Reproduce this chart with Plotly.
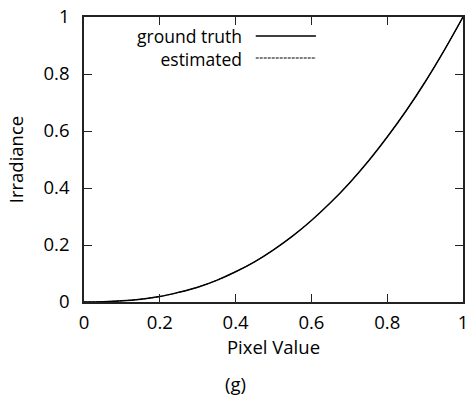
import plotly.graph_objects as go

# Data
pixel_value = [0.0, 0.05, 0.1, 0.15, 0.2, 0.25, 0.3, 0.35, 0.4, 0.45, 0.5,
               0.55, 0.6, 0.65, 0.7, 0.75, 0.8, 0.85, 0.9, 0.95, 1.0]
ground_truth = [0.0, 0.001, 0.004, 0.010, 0.019, 0.034, 0.052, 0.076, 0.106, 0.141, 0.183,
                0.231, 0.286, 0.348, 0.417, 0.494, 0.579, 0.671, 0.772, 0.882, 1.0]
estimated = [0.0, 0.001, 0.004, 0.010, 0.019, 0.034, 0.052, 0.076, 0.106, 0.141, 0.183,
             0.231, 0.286, 0.348, 0.417, 0.494, 0.579, 0.671, 0.772, 0.882, 1.0]
tick_vals = [0, 0.2, 0.4, 0.6, 0.8, 1]
tick_text = ["0", "0.2", "0.4", "0.6", "0.8", "1"]
legend_labels = ["ground truth", "estimated"]

FONT = "Open Sans"
FS = 18.5

fig = go.Figure()
fig.add_trace(go.Scatter(x=pixel_value, y=ground_truth, mode="lines", name=legend_labels[0],
                         line=dict(color="black", width=1.5, shape="spline"), showlegend=False))
fig.add_trace(go.Scatter(x=pixel_value, y=estimated, mode="lines", name=legend_labels[1],
                         line=dict(color="black", width=1, dash="3px,1px", shape="spline"),
                         showlegend=False))

axis_common = dict(range=[0, 1], tickvals=tick_vals, ticktext=tick_text, ticks="inside",
                   ticklen=8, tickwidth=1.2, tickcolor="#222", showline=True, linecolor="#222",
                   linewidth=1.6, mirror="ticks", showgrid=False, zeroline=False,
                   ticklabeloverflow="allow",
                   tickfont=dict(family=FONT, size=FS, color="black"))

fig.update_layout(
    width=469, height=400,
    margin=dict(l=84, r=1, t=17, b=98),
    paper_bgcolor="white", plot_bgcolor="white",
    xaxis=dict(**axis_common, ticklabelstandoff=3,
               title=dict(text="Pixel Value", font=dict(family=FONT, size=FS, color="black"),
                          standoff=7)),
    yaxis=dict(**axis_common, ticklabelstandoff=9,
               title=dict(text="Irradiance", font=dict(family=FONT, size=FS, color="black"),
                          standoff=15)),
    font=dict(family=FONT, size=FS, color="black"),
)

# Legend (gnuplot style: text right aligned, sample line on the right)
fig.add_annotation(x=(246 - 84) / 384, y=1 - (47.5 - 17) / 285, xref="paper", yref="paper",
                   text="<br>".join(legend_labels), align="right",
                   showarrow=False, xanchor="right", yanchor="middle",
                   font=dict(family=FONT, size=17.5, color="black"))
for dash, w, ypx in [("solid", 1.5, 36), ("3px,1px", 1, 58)]:
    yp = 1 - (ypx - 17) / 285
    fig.add_shape(type="line", xref="paper", yref="paper",
                  x0=(258 - 84) / 384, x1=(319 - 84) / 384, y0=yp, y1=yp,
                  line=dict(color="black", width=w, dash=dash))

fig.add_annotation(x=(237 - 84) / 384, y=-(383 - 302) / 285, xref="paper", yref="paper",
                   text="(g)", showarrow=False, xanchor="center", yanchor="middle",
                   font=dict(family=FONT, size=FS, color="black"))

fig.write_html("out.html")
